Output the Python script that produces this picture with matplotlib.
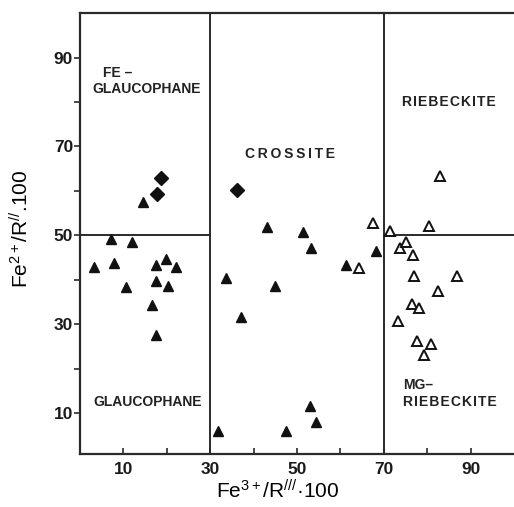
import matplotlib
matplotlib.use("Agg")
import matplotlib.pyplot as plt
from matplotlib.ticker import FixedLocator

plt.rcParams['font.family'] = ['Liberation Sans', 'DejaVu Sans']
plt.rcParams['mathtext.fontset'] = 'custom'
plt.rcParams['mathtext.rm'] = 'Liberation Sans'
plt.rcParams['mathtext.it'] = 'Liberation Sans:italic'

# Filled triangles (glaucophane / crossite samples)
filled_x = [14.5, 7.2, 12.0, 3.3, 7.9, 17.6, 19.9, 22.2, 10.7, 17.6, 20.2, 16.6, 17.6,
            43.0, 51.5, 53.3, 33.6, 45.0, 37.1, 61.3, 68.2,
            31.7, 52.9, 54.4, 47.5]
filled_y = [57.4, 49.1, 48.4, 42.8, 43.7, 43.4, 44.7, 42.9, 38.4, 39.8, 38.7, 34.3, 27.5,
            51.9, 50.7, 47.2, 40.5, 38.6, 31.7, 43.4, 46.5,
            6.0, 11.6, 7.9, 5.9]

# Diamonds
diam_x = [18.7, 17.7, 36.1]
diam_y = [63.0, 59.3, 60.3]

# Open triangles
open_x = [67.6, 64.2, 71.4, 80.4, 82.9, 73.7, 75.1, 76.8, 77.0, 86.8, 82.4, 76.4, 78.1,
          73.3, 77.7, 80.9, 79.3]
open_y = [52.8, 42.7, 50.9, 52.0, 63.4, 47.2, 48.4, 45.5, 40.9, 40.8, 37.5, 34.6, 33.6,
          30.8, 26.3, 25.6, 23.1]

major_ticks = [10, 30, 50, 70, 90]
minor_ticks = [20, 40, 60, 80]

fig = plt.figure(figsize=(5.14, 5.07), dpi=100)
ax = fig.add_axes([0.1556, 0.1045, 0.8444, 0.8695])
ax.set_xlim(0, 100)
ax.set_ylim(0.8, 100)

lc = '#2a2a2a'
ax.axvline(30, color=lc, lw=1.4, zorder=1)
ax.axvline(70, color=lc, lw=1.4, zorder=1)
ax.plot([0, 30], [50, 50], color=lc, lw=1.4, zorder=1)
ax.plot([70, 100], [50, 50], color=lc, lw=1.4, zorder=1)

ax.plot(filled_x, filled_y, '^', color='#111111', ms=7.2, mec='#111111', ls='none', zorder=3)
ax.plot(diam_x, diam_y, 'D', color='#111111', ms=7.4, mec='#111111', ls='none', zorder=3)
ax.plot(open_x, open_y, '^', mfc='white', mec='#111111', mew=1.4, ms=7.2, ls='none', zorder=3)

for s in ['left', 'bottom', 'top']:
    ax.spines[s].set_linewidth(1.6)
    ax.spines[s].set_color(lc)
ax.spines['right'].set_visible(False)

ax.xaxis.set_major_locator(FixedLocator(major_ticks))
ax.xaxis.set_minor_locator(FixedLocator(minor_ticks))
ax.yaxis.set_major_locator(FixedLocator(major_ticks))
ax.yaxis.set_minor_locator(FixedLocator(minor_ticks))
ax.tick_params(axis='x', which='both', direction='in', length=4, width=1.2, color=lc,
               labelsize=12.5, pad=6, labelcolor='#1a1a1a')
ax.tick_params(axis='y', which='both', direction='out', length=4, width=1.2, color=lc,
               labelsize=12.5, pad=1, labelcolor='#1a1a1a')
for lab in ax.get_xticklabels() + ax.get_yticklabels():
    lab.set_fontweight('bold')

tc = '#222222'
hs = '\u200a'
ts = '\u2009'
def spaced(word, sep):
    return sep.join(word)

ax.text(5.4, 86.5, 'FE –', fontsize=10, color=tc, va='center', ha='left', fontweight='bold')
ax.text(2.9, 82.9, 'GLAUCOPHANE', fontsize=10, color=tc, va='center', ha='left', fontweight='bold')
ax.text(48.3, 68.3, spaced('CROSSITE', ts), fontsize=10, color=tc, va='center', ha='center', fontweight='bold')
ax.text(74.2, 80.0, spaced('RIEBECKITE', hs), fontsize=10, color=tc, va='center', ha='left', fontweight='bold')
ax.text(74.4, 16.4, 'MG–', fontsize=10, color=tc, va='center', ha='left', fontweight='bold')
ax.text(74.4, 12.6, spaced('RIEBECKITE', hs), fontsize=10, color=tc, va='center', ha='left', fontweight='bold')
ax.text(3.1, 12.6, 'GLAUCOPHANE', fontsize=10, color=tc, va='center', ha='left', fontweight='bold')

ax.set_xlabel(r'Fe$^{3+}$/R$^{///}$·100', fontsize=15)
ax.xaxis.set_label_coords(0.456, -0.058)
ax.set_ylabel(r'Fe$^{2+}$/R$^{//}$.100', fontsize=15)
ax.yaxis.set_label_coords(-0.11, 0.51)

fig.savefig('out.png', dpi=100)
